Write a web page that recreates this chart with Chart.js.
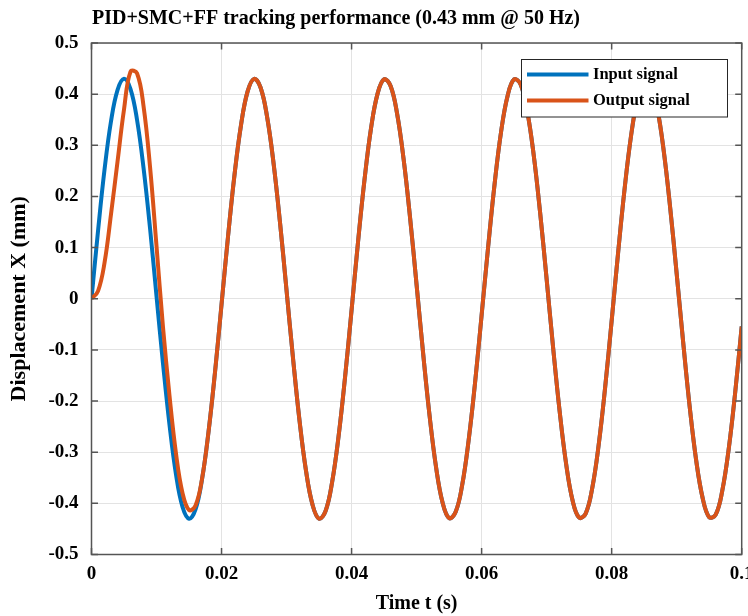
<!DOCTYPE html>
<html>
<head>
<meta charset="utf-8">
<script src="https://cdn.jsdelivr.net/npm/chart.js@4.4.1/dist/chart.umd.min.js"></script>
<style>
  html, body { margin: 0; padding: 0; background: #fff; }
  #wrap { width: 748px; height: 616px; }
</style>
</head>
<body>
<div id="wrap"><canvas id="chart1" width="748" height="616"></canvas></div>
<script>
// sample times (s)
const times = [
  0, 0.001, 0.002, 0.003, 0.004, 0.005, 0.006, 0.007, 0.008, 0.009,
  0.010, 0.011, 0.012, 0.013, 0.014, 0.015, 0.016, 0.017, 0.018, 0.019,
  0.020, 0.021, 0.022, 0.023, 0.024, 0.025, 0.026, 0.027, 0.028, 0.029,
  0.030, 0.031, 0.032, 0.033, 0.034, 0.035, 0.036, 0.037, 0.038, 0.039,
  0.040, 0.041, 0.042, 0.043, 0.044, 0.045, 0.046, 0.047, 0.048, 0.049,
  0.050, 0.051, 0.052, 0.053, 0.054, 0.055, 0.056, 0.057, 0.058, 0.059,
  0.060, 0.061, 0.062, 0.063, 0.064, 0.065, 0.066, 0.067, 0.068, 0.069,
  0.070, 0.071, 0.072, 0.073, 0.074, 0.075, 0.076, 0.077, 0.078, 0.079,
  0.080, 0.081, 0.082, 0.083, 0.084, 0.085, 0.086, 0.087, 0.088, 0.089,
  0.090, 0.091, 0.092, 0.093, 0.094, 0.095, 0.096, 0.097, 0.098, 0.099,
  0.100
];

// displacement (mm)
const inputSignal = [
  0, 0.132, 0.252, 0.347, 0.408, 0.430, 0.410, 0.350, 0.256, 0.138,
  0.005, -0.127, -0.247, -0.344, -0.407, -0.430, -0.412, -0.353, -0.260, -0.143,
  -0.011, 0.122, 0.243, 0.340, 0.405, 0.430, 0.413, 0.356, 0.265, 0.148,
  0.016, -0.117, -0.239, -0.337, -0.403, -0.430, -0.415, -0.359, -0.269, -0.153,
  -0.022, 0.112, 0.234, 0.334, 0.401, 0.429, 0.416, 0.362, 0.273, 0.158,
  0.027, -0.106, -0.229, -0.330, -0.399, -0.429, -0.417, -0.365, -0.277, -0.163,
  -0.032, 0.101, 0.225, 0.327, 0.397, 0.429, 0.419, 0.368, 0.282, 0.168,
  0.038, -0.096, -0.220, -0.323, -0.395, -0.428, -0.420, -0.371, -0.286, -0.173,
  -0.043, 0.091, 0.216, 0.320, 0.393, 0.428, 0.421, 0.373, 0.290, 0.178,
  0.049, -0.085, -0.211, -0.316, -0.390, -0.427, -0.422, -0.376, -0.294, -0.183,
  -0.054
];

const outputSignal = [
  0, 0.015, 0.070, 0.165, 0.268, 0.370, 0.444, 0.441, 0.377, 0.258,
  0.103, -0.056, -0.190, -0.303, -0.380, -0.413, -0.404, -0.352, -0.260, -0.143,
  -0.011, 0.122, 0.243, 0.340, 0.405, 0.430, 0.413, 0.356, 0.265, 0.148,
  0.016, -0.117, -0.239, -0.337, -0.403, -0.430, -0.415, -0.359, -0.269, -0.153,
  -0.022, 0.112, 0.234, 0.334, 0.401, 0.429, 0.416, 0.362, 0.273, 0.158,
  0.027, -0.106, -0.229, -0.330, -0.399, -0.429, -0.417, -0.365, -0.277, -0.163,
  -0.032, 0.101, 0.225, 0.327, 0.397, 0.429, 0.419, 0.368, 0.282, 0.168,
  0.038, -0.096, -0.220, -0.323, -0.395, -0.428, -0.420, -0.371, -0.286, -0.173,
  -0.043, 0.091, 0.216, 0.320, 0.393, 0.428, 0.421, 0.373, 0.290, 0.178,
  0.049, -0.085, -0.211, -0.316, -0.390, -0.427, -0.422, -0.376, -0.294, -0.183,
  -0.054
];

const xTickLabels = ['0', '0.02', '0.04', '0.06', '0.08', '0.1'];
const yTickLabels = ['-0.5', '-0.4', '-0.3', '-0.2', '-0.1', '0', '0.1', '0.2', '0.3', '0.4', '0.5'];
const seriesNames = ['Input signal', 'Output signal'];
const chartTitle = 'PID+SMC+FF tracking performance (0.43 mm @ 50 Hz)';

const serif = "'Liberation Serif', 'Times New Roman', serif";
const blue = '#0072BD';
const orange = '#D95319';

function toPoints(ys) {
  return times.map((t, i) => ({ x: t, y: ys[i] }));
}

// matlab style box, inward ticks, title and legend
const matlabBox = {
  id: 'matlabBox',
  afterDatasetsDraw(chart) {
    const { ctx, chartArea: a, scales: { x, y } } = chart;
    ctx.save();
    ctx.strokeStyle = '#555';
    ctx.lineWidth = 1.5;
    ctx.strokeRect(a.left, a.top, a.right - a.left, a.bottom - a.top);
    ctx.beginPath();
    x.ticks.forEach(t => {
      const px = x.getPixelForValue(t.value);
      ctx.moveTo(px, a.bottom); ctx.lineTo(px, a.bottom - 6.5);
      ctx.moveTo(px, a.top); ctx.lineTo(px, a.top + 6.5);
    });
    y.ticks.forEach(t => {
      const py = y.getPixelForValue(t.value);
      ctx.moveTo(a.left, py); ctx.lineTo(a.left + 6.5, py);
      ctx.moveTo(a.right, py); ctx.lineTo(a.right - 6.5, py);
    });
    ctx.stroke();
    ctx.restore();
  },
  afterDraw(chart) {
    const ctx = chart.ctx;
    ctx.save();
    // title
    ctx.fillStyle = '#000';
    ctx.font = 'bold 20px ' + serif;
    ctx.textAlign = 'center';
    ctx.textBaseline = 'middle';
    ctx.fillText(chartTitle, 336, 19);

    // legend
    const bx = 521.5, by = 59.5, bw = 206, bh = 57.5;
    ctx.fillStyle = '#fff';
    ctx.fillRect(bx, by, bw, bh);
    ctx.strokeStyle = '#262626';
    ctx.lineWidth = 1;
    ctx.strokeRect(bx, by, bw, bh);
    const cols = [blue, orange];
    const rows = [74.5, 100.5];
    ctx.font = 'bold 16.5px ' + serif;
    ctx.textAlign = 'left';
    seriesNames.forEach((name, i) => {
      ctx.strokeStyle = cols[i];
      ctx.lineWidth = 4;
      ctx.beginPath();
      ctx.moveTo(527, rows[i]);
      ctx.lineTo(588.5, rows[i]);
      ctx.stroke();
      ctx.fillStyle = '#000';
      ctx.fillText(name, 593, rows[i]);
    });
    ctx.restore();
  }
};

const ctx = document.getElementById('chart1');
new Chart(ctx, {
  type: 'line',
  data: {
    datasets: [{
      label: seriesNames[0],
      data: toPoints(inputSignal),
      borderColor: blue,
      borderWidth: 4,
      pointRadius: 0,
      tension: 0.4,
      fill: false,
      order: 1
    }, {
      label: seriesNames[1],
      data: toPoints(outputSignal),
      borderColor: orange,
      borderWidth: 4,
      pointRadius: 0,
      tension: 0.4,
      fill: false,
      order: 0
    }]
  },
  options: {
    responsive: false,
    animation: false,
    layout: { padding: { left: 0, right: 6.3, top: 43, bottom: 0 } },
    plugins: {
      legend: { display: false },
      title: { display: false },
      tooltip: { enabled: false }
    },
    scales: {
      x: {
        type: 'linear',
        min: 0,
        max: 0.1,
        ticks: {
          stepSize: 0.02,
          autoSkip: false,
          maxRotation: 0,
          padding: 8,
          color: '#000',
          font: { family: serif, size: 19, weight: 'bold' },
          callback: (v, i) => xTickLabels[i]
        },
        grid: { color: '#e3e3e3', drawTicks: false },
        border: { display: false },
        title: {
          display: true,
          text: 'Time t (s)',
          color: '#000',
          font: { family: serif, size: 20, weight: 'bold' },
          padding: { top: 0, bottom: 0 }
        },
        afterFit(s) { s.height = 61.5; s.paddingLeft = 0; s.paddingRight = 0; }
      },
      y: {
        type: 'linear',
        min: -0.5,
        max: 0.5,
        ticks: {
          stepSize: 0.1,
          padding: 13,
          color: '#000',
          font: { family: serif, size: 19, weight: 'bold' },
          callback: (v, i) => yTickLabels[i]
        },
        grid: { color: '#e3e3e3', drawTicks: false },
        border: { display: false },
        title: {
          display: true,
          text: 'Displacement X (mm)',
          color: '#000',
          font: { family: serif, size: 22, weight: 'bold' },
          padding: { top: 6.5, bottom: 0 }
        },
        afterFit(s) { s.width = 91.5; s.paddingTop = 0; s.paddingBottom = 0; }
      }
    }
  },
  plugins: [matlabBox]
});
</script>
</body>
</html>
